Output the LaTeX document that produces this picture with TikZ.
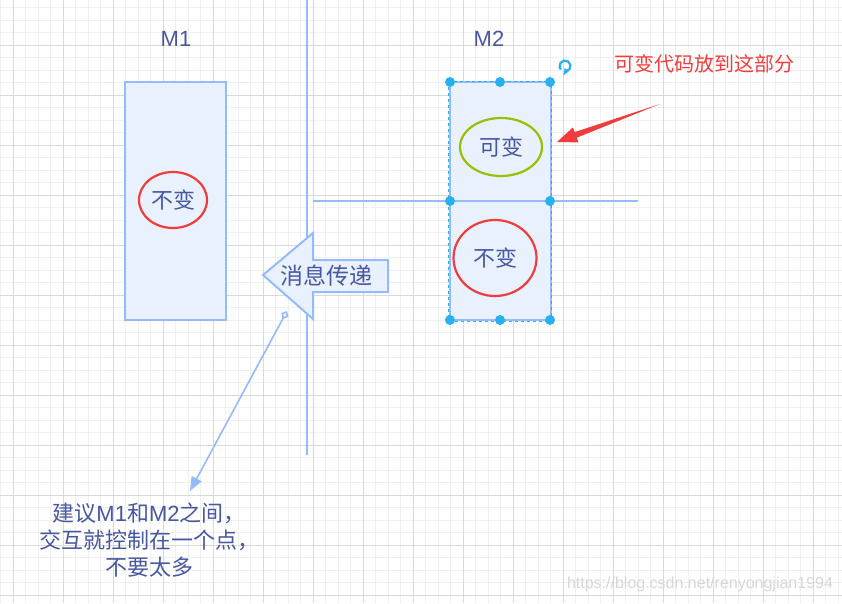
\documentclass[tikz,border=0pt]{standalone}
\usepackage{fontspec}
\setsansfont{Liberation Sans}
\newfontfamily\cjk{Noto Sans CJK SC}
\usetikzlibrary{arrows.meta,shapes.geometric,calc}
\definecolor{gridmaj}{RGB}{217,217,217}
\definecolor{gridmin}{RGB}{240,240,240}
\definecolor{boxline}{RGB}{150,187,250}
\definecolor{boxfill}{RGB}{233,241,254}
\definecolor{handle}{RGB}{41,176,240}
\definecolor{redc}{RGB}{240,60,60}
\definecolor{greenc}{RGB}{153,192,0}
\definecolor{txt}{RGB}{72,88,160}
\definecolor{redtxt}{RGB}{245,60,60}
\definecolor{wm}{RGB}{215,215,215}
\tikzset{
  minorline/.style={draw=gridmin,line width=0.8pt},
  majorline/.style={draw=gridmaj,line width=1pt},
  modbox/.style={draw=boxline,fill=boxfill,line width=2pt,minimum width=101pt,minimum height=238pt,inner sep=0pt},
  selbox/.style={draw=handle,dashed,line width=1pt},
  ringred/.style={ellipse,draw=redc,line width=2.2pt,inner sep=0pt,font=\cjk\fontsize{22}{24}\selectfont,text=txt},
  ringgreen/.style={ellipse,draw=greenc,line width=2.2pt,inner sep=0pt,font=\cjk\fontsize{22}{24}\selectfont,text=txt},
  hdl/.style={circle,fill=handle,minimum size=10pt,inner sep=0pt},
  sepline/.style={draw=boxline,line width=2pt},
  mlabel/.style={font=\sffamily\fontsize{22}{24}\selectfont,text=txt},
}
\begin{document}
\begin{tikzpicture}[x=1pt,y=-1pt]
\useasboundingbox (0,0) rectangle (842,603);
\fill[white] (0,0) rectangle (842,603);
% grid
\foreach \i in {0,...,67} {\draw[minorline] ({0.5+12.5*\i},0) -- ({0.5+12.5*\i},603);}
\foreach \i in {0,...,47} {\draw[minorline] (0,{7.5+12.5*\i}) -- (842,{7.5+12.5*\i});}
\foreach \i in {0,...,16} {\draw[majorline] ({13+50*\i},0) -- ({13+50*\i},603);}
\foreach \i in {0,...,11} {\draw[majorline] (0,{45+50*\i}) -- (842,{45+50*\i});}
% watermark
\node[font=\sffamily\fontsize{16}{18}\selectfont,text=wm] (wmark) at (700,584) {https://blog.csdn.net/renyongjian1994};
% labels
\node[mlabel] (m1lab) at (176,39) {M1};
\node[mlabel] (m2lab) at (489,39) {M2};
% vertical separator
\coordinate (vtop) at (307,0);
\coordinate (vbot) at (307,455);
\draw[sepline] (vtop) -- (vbot);
% M1
\node[modbox] (m1) at (175.5,201) {};
\node[ringred,minimum width=68pt,minimum height=56pt] (m1fix) at (173,200) {不变};
% M2
\node[modbox] (m2) at (500,201) {};
\draw[selbox] (m2.north west) rectangle (m2.south east);
\coordinate (hl) at (313,201);
\coordinate (hr) at (638,201);
\draw[sepline,line width=1.6pt] (hl) -- (hr);
\node[ringgreen,minimum width=82pt,minimum height=58pt] (m2var) at (501,147) {可变};
\node[ringred,minimum width=83pt,minimum height=76pt] (m2fix) at (495,258) {不变};
% handles
\foreach \p/\q in {450/82,500/82,550/82,450/201,550/201,450/320,500/320,550/320}
  {\node[hdl] at (\p,\q) {};}
% rotation icon
\coordinate (rot) at (565,66);
\draw[handle,line width=2.2pt] ($(rot)+(80:5.5)$) arc (80:-220:5.5);
\fill[handle] ($(rot)+(100:2)$) -- ($(rot)+(100:9.5)$) -- ($(rot)+(55:6.5)$) -- cycle;
% message arrow shape
\fill[boxfill,draw=boxline,line width=2pt,line join=miter]
  (263,275) -- (313,233) -- (313,260) -- (388,260) -- (388,292) -- (313,292) -- (313,319) -- cycle;
\node[font=\cjk\fontsize{23}{26}\selectfont,text=txt] (msg) at (326,276) {消息传递};
% connector with diamond
\coordinate (cstart) at (287,311);
\coordinate (cend) at (190,491);
\draw[boxline,line width=1.6pt,{Diamond[open,length=9pt,width=8pt,line width=1.6pt]}-{Triangle[length=14pt,width=11pt]}] (cstart) -- (cend);
% note
\node[font=\cjk\fontsize{22}{27}\selectfont,text=txt,align=center] (note) at (149,540)
  {建议{\sffamily M1}和{\sffamily M2}之间，\\交互就控制在一个点，\\不要太多};
% red annotation
\node[font=\cjk\fontsize{20}{22}\selectfont,text=redtxt] (anno) at (704,64) {可变代码放到这部分};
\fill[redc] (660,104) -- (576.8,137.7) -- (578.5,142.4) -- (557,142) -- (572.9,127.4) -- (574.6,132.1) -- cycle;
\end{tikzpicture}
\end{document}
